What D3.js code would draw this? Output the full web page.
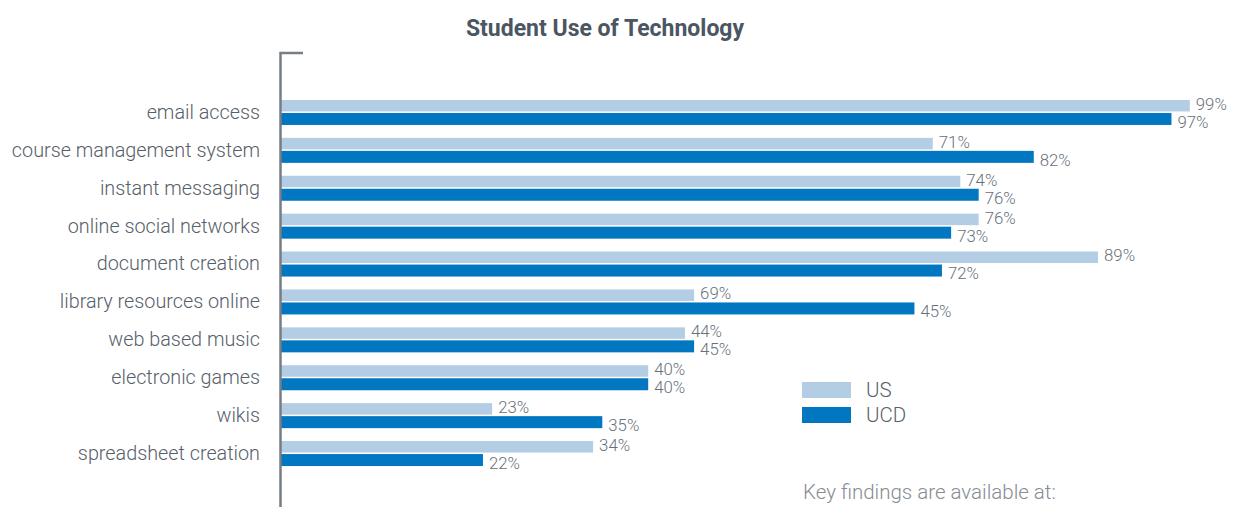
<head>
    <meta charset="utf-8">
    <title>Student Use of Technology</title>
    <script src="https://d3js.org/d3.v7.min.js"></script>
    <style>
        body { margin: 0; background: #fff; }
        svg { display: block; }
        text { font-family: Roboto, "Liberation Sans", sans-serif; }
    </style>
</head>

<body>
    <svg></svg>
    <script>
        var svgWidth = 1234;
        var svgHeight = 507;

        var categories = ["email access", "course management system", "instant messaging",
            "online social networks", "document creation", "library resources online",
            "web based music", "electronic games", "wikis", "spreadsheet creation"];

        // bar lengths as drawn
        var usValues = [99, 71, 74, 76, 89, 45, 44, 40, 23, 34];
        var ucdValues = [97, 82, 76, 73, 72, 69, 45, 40, 35, 22];

        // value labels as printed (library row is printed swapped)
        var usLabels = ["99%", "71%", "74%", "76%", "89%", "69%", "44%", "40%", "23%", "34%"];
        var ucdLabels = ["97%", "82%", "76%", "73%", "72%", "45%", "45%", "40%", "35%", "22%"];

        var seriesNames = ["US", "UCD"];
        var colors = ["#b3cde5", "#0077c0"];

        var svg = d3.select("svg")
            .attr("width", svgWidth)
            .attr("height", svgHeight);

        var x = d3.scaleLinear().domain([0, 100]).range([281, 1199]);
        var y = d3.scaleBand().domain(categories).range([93, 472]);

        // title
        svg.append("text")
            .attr("x", 605)
            .attr("y", 36)
            .attr("text-anchor", "middle")
            .attr("font-size", 23)
            .attr("font-weight", 700)
            .attr("fill", "#4a5661")
            .text("Student Use of Technology");

        var rows = svg.selectAll(".row")
            .data(categories)
            .enter()
            .append("g")
            .attr("class", "row")
            .attr("transform", function (d) {
                return "translate(0," + (y(d) + y.bandwidth() / 2) + ")";
            });

        rows.append("text")
            .attr("x", 260)
            .attr("y", 0)
            .attr("dy", "0.35em")
            .attr("text-anchor", "end")
            .attr("font-size", 19.8)
            .attr("font-weight", 300)
            .attr("fill", "#56606a")
            .text(function (d) { return d; });

        rows.append("rect")
            .attr("x", x(0))
            .attr("y", -12)
            .attr("height", 11.5)
            .attr("width", function (d, i) { return x(usValues[i]) - x(0); })
            .attr("fill", colors[0]);

        rows.append("rect")
            .attr("x", x(0))
            .attr("y", 1)
            .attr("height", 12)
            .attr("width", function (d, i) { return x(ucdValues[i]) - x(0); })
            .attr("fill", colors[1]);

        rows.append("text")
            .attr("x", function (d, i) { return x(usValues[i]) + 6; })
            .attr("y", -8)
            .attr("dy", "0.35em")
            .attr("font-size", 16.8)
            .attr("font-weight", 300)
            .attr("fill", "#67717a")
            .text(function (d, i) { return usLabels[i]; });

        rows.append("text")
            .attr("x", function (d, i) { return x(ucdValues[i]) + 6; })
            .attr("y", 10)
            .attr("dy", "0.35em")
            .attr("font-size", 16.8)
            .attr("font-weight", 300)
            .attr("fill", "#67717a")
            .text(function (d, i) { return ucdLabels[i]; });

        // axis line with top tick
        svg.append("path")
            .attr("d", "M280.5 507 V53 H303")
            .attr("fill", "none")
            .attr("stroke", "#767d85")
            .attr("stroke-width", 2.5);

        // legend
        var legend = svg.selectAll(".legend")
            .data(seriesNames)
            .enter()
            .append("g")
            .attr("class", "legend")
            .attr("transform", function (d, i) { return "translate(802," + (382 + i * 25) + ")"; });

        legend.append("rect")
            .attr("width", 49)
            .attr("height", 16)
            .attr("fill", function (d, i) { return colors[i]; });

        legend.append("text")
            .attr("x", 64)
            .attr("y", 8)
            .attr("dy", "0.35em")
            .attr("font-size", 20.5)
            .attr("font-weight", 300)
            .attr("fill", "#56606a")
            .text(function (d) { return d; });

        svg.append("text")
            .attr("x", 803)
            .attr("y", 492)
            .attr("dy", "0.35em")
            .attr("font-size", 20.5)
            .attr("font-weight", 300)
            .attr("fill", "#858c93")
            .text("Key findings are available at:");
    </script>
</body>
